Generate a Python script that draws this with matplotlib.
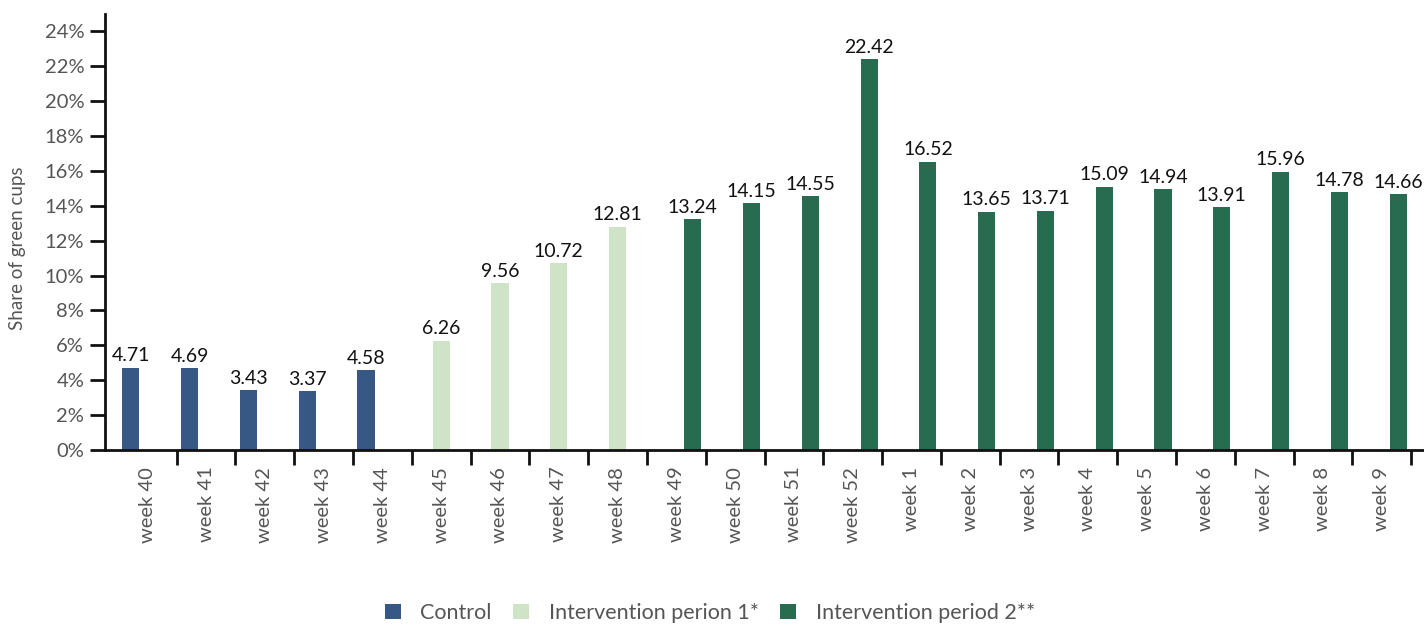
import matplotlib
matplotlib.use("Agg")
import matplotlib.pyplot as plt
from matplotlib.patches import Patch
import numpy as np

plt.rcParams['font.family'] = ['Lato', 'DejaVu Sans']

weeks = ["week 40", "week 41", "week 42", "week 43", "week 44", "week 45", "week 46",
         "week 47", "week 48", "week 49", "week 50", "week 51", "week 52", "week 1",
         "week 2", "week 3", "week 4", "week 5", "week 6", "week 7", "week 8", "week 9"]
nan = np.nan
control = [4.71, 4.69, 3.43, 3.37, 4.58] + [nan] * 17
interv1 = [nan] * 5 + [6.26, 9.56, 10.72, 12.81] + [nan] * 13
interv2 = [nan] * 9 + [13.24, 14.15, 14.55, 22.42, 16.52, 13.65, 13.71, 15.09,
                       14.94, 13.91, 15.96, 14.78, 14.66]
series_names = ["Control", "Intervention perion 1*", "Intervention period 2**"]
colors = ["#375885", "#cfe4c7", "#276c50"]
yticks = list(range(0, 25, 2))

fig = plt.figure(figsize=(14.24, 6.29), dpi=100)
ax = fig.add_axes([105/1424, 1 - 450/629, 1 - 105/1424, (450 - 14)/629])

x = np.arange(len(weeks))
w = 0.29
offsets = [-0.28, 0.0, 0.28]
for vals, off, col in zip([control, interv1, interv2], offsets, colors):
    arr = np.array(vals, dtype=float)
    ax.bar(x + off, np.nan_to_num(arr), width=w, color=col)
    for xi, v in zip(x + off, arr):
        if not np.isnan(v):
            ax.text(xi, v + 0.2, f"{v:.2f}", ha="center", va="bottom",
                    fontsize=14, color="#111111")

ax.set_xlim(-0.72, 21.72)
ax.set_ylim(0, 25)
ax.set_yticks(yticks)
ax.set_yticklabels([f"{t}%" for t in yticks])
ax.set_xticks(np.arange(0.5, len(weeks), 1.0))
ax.set_xticklabels([])
ax.set_xticks(x, minor=True)
ax.set_xticklabels(weeks, minor=True, rotation=90)
ax.tick_params(axis="x", which="minor", length=0, pad=12, labelsize=14.5, labelcolor="#555555")
ax.tick_params(axis="x", which="major", length=11, width=2, direction="out", color="#111111")
ax.tick_params(axis="y", length=11, width=2, labelsize=14.5, labelcolor="#555555", color="#111111", pad=4)
for s in ["top", "right"]:
    ax.spines[s].set_visible(False)
for s in ["left", "bottom"]:
    ax.spines[s].set_linewidth(2)
    ax.spines[s].set_color("#111111")

fig.text(18/1424, 1 - 248/629, "Share of green cups", rotation=90, ha="center", va="center",
         fontsize=13.5, color="#555555")

handles = [Patch(facecolor=c, edgecolor="none") for c in colors]
fig.legend(handles, series_names, loc="center", bbox_to_anchor=(710/1424, 1 - 613/629),
           ncol=3, frameon=False, fontsize=15.5, labelcolor="#555555",
           handlelength=0.75, handleheight=0.75, handletextpad=0.9, columnspacing=1.0)

fig.savefig("out.png", dpi=100)
